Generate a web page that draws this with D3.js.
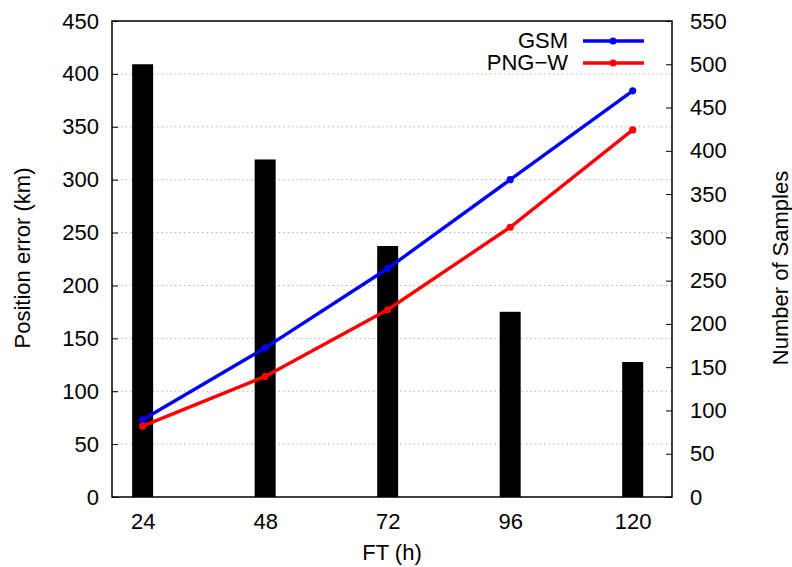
<!DOCTYPE html>
<html lang="en">
<head>
    <meta charset="UTF-8">
    <title>Position error vs forecast time</title>
    <style>
    body {
        margin: 0;
        background: #fff;
        font-family: "Liberation Sans", Arial, sans-serif;
    }
    svg text {
        font-family: "Liberation Sans", Arial, sans-serif;
        font-size: 22px;
        fill: #000;
    }
    .grid line {
        stroke: #b0b0b0;
        stroke-width: 1;
        stroke-dasharray: 1.5 3;
    }
    </style>
</head>
<body>
    <svg id="chart" width="792" height="567"></svg>
    <script src="https://d3js.org/d3.v7.min.js"></script>
    <script>
        // data
        var hours = [24, 48, 72, 96, 120];
        var samples = [500, 390, 290, 214, 156];
        var gsm = [73, 141, 216, 300, 384];
        var pngw = [67, 114, 177, 255, 347];
        var leftTicks = [0, 50, 100, 150, 200, 250, 300, 350, 400, 450];
        var rightTicks = [0, 50, 100, 150, 200, 250, 300, 350, 400, 450, 500, 550];

        var plotL = 112, plotR = 672, plotT = 21, plotB = 497;
        var svg = d3.select("#chart");

        var x = d3.scaleLinear().domain([18, 127.7]).range([plotL, plotR]);
        var yL = d3.scaleLinear().domain([0, 450]).range([plotB, plotT]);
        var yR = d3.scaleLinear().domain([0, 550]).range([plotB, plotT]);

        // grid
        svg.append("g").attr("class", "grid")
            .selectAll("line")
            .data(leftTicks.filter(function(d) { return d > 0 && d < 450; }))
            .enter().append("line")
            .attr("x1", plotL).attr("x2", plotR)
            .attr("y1", function(d) { return yL(d); })
            .attr("y2", function(d) { return yL(d); });

        // bars (number of samples, right axis)
        svg.append("g").selectAll("rect")
            .data(hours)
            .enter().append("rect")
            .attr("x", function(d) { return x(d) - 10.5; })
            .attr("width", 21)
            .attr("y", function(d, i) { return yR(samples[i]); })
            .attr("height", function(d, i) { return plotB - yR(samples[i]); })
            .attr("fill", "#000");

        // axes
        var axL = d3.axisLeft(yL).tickValues(leftTicks).tickSize(-6).tickPadding(13);
        var axR = d3.axisRight(yR).tickValues(rightTicks).tickSize(-6).tickPadding(18);
        var axB = d3.axisBottom(x).tickValues(hours).tickSize(-6).tickPadding(16);

        [[axL, "translate(" + plotL + ",0)"], [axR, "translate(" + plotR + ",0)"],
         [axB, "translate(0," + plotB + ")"]].forEach(function(a) {
            var g = svg.append("g").attr("transform", a[1]).call(a[0]);
            g.select(".domain").remove();
            g.selectAll(".tick line").attr("stroke", "#000").attr("stroke-width", 1);
            g.selectAll(".tick text").style("font-size", "22px").attr("fill", "#000");
        });

        svg.append("rect")
            .attr("x", plotL).attr("y", plotT)
            .attr("width", plotR - plotL).attr("height", plotB - plotT)
            .attr("fill", "none").attr("stroke", "#000").attr("stroke-width", 1.5);

        // lines
        var series = [
            {name: "GSM", values: gsm, color: "#0000ff"},
            {name: "PNG\u2212W", values: pngw, color: "#ff0000"}
        ];
        var line = d3.line()
            .x(function(d) { return x(d[0]); })
            .y(function(d) { return yL(d[1]); });

        series.forEach(function(s, k) {
            var pts = hours.map(function(h, i) { return [h, s.values[i]]; });
            svg.append("path")
                .datum(pts)
                .attr("d", line)
                .attr("fill", "none")
                .attr("stroke", s.color)
                .attr("stroke-width", 3.4);
            svg.append("g").selectAll("circle")
                .data(pts)
                .enter().append("circle")
                .attr("cx", function(d) { return x(d[0]); })
                .attr("cy", function(d) { return yL(d[1]); })
                .attr("r", 3.6)
                .attr("fill", s.color);

            // legend
            var ly = 41 + k * 22;
            svg.append("text")
                .attr("x", 568).attr("y", ly + 6.5)
                .attr("text-anchor", "end")
                .text(s.name);
            svg.append("line")
                .attr("x1", 583).attr("x2", 644)
                .attr("y1", ly).attr("y2", ly)
                .attr("stroke", s.color).attr("stroke-width", 3.4);
            svg.append("circle")
                .attr("cx", 613).attr("cy", ly).attr("r", 3.6)
                .attr("fill", s.color);
        });

        // axis titles
        svg.append("text")
            .attr("x", 392).attr("y", 560)
            .attr("text-anchor", "middle")
            .text("FT (h)");
        svg.append("text")
            .attr("transform", "translate(30,258) rotate(-90)")
            .attr("text-anchor", "middle")
            .text("Position error (km)");
        svg.append("text")
            .attr("transform", "translate(788,268) rotate(-90)")
            .attr("text-anchor", "middle")
            .text("Number of Samples");
    </script>
</body>
</html>
